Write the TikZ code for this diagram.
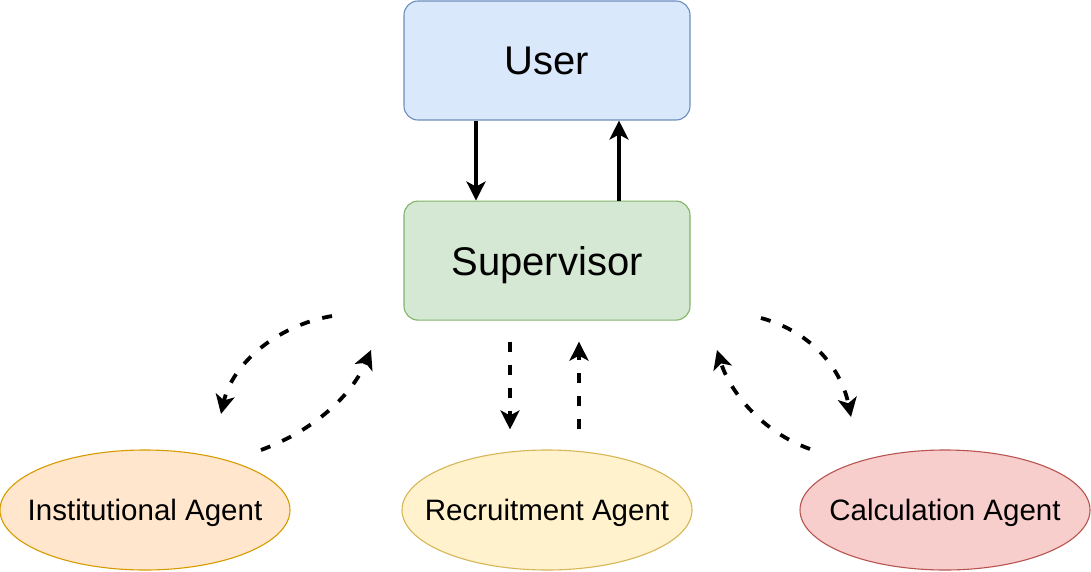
\documentclass[tikz,border=0pt]{standalone}
\usepackage{fontspec}
\setmainfont{Liberation Sans}
\usetikzlibrary{positioning,shapes.geometric,arrows.meta}
\definecolor{userfill}{HTML}{DAE8FC}
\definecolor{userline}{HTML}{6C8EBF}
\definecolor{supfill}{HTML}{D5E8D4}
\definecolor{supline}{HTML}{82B366}
\definecolor{instfill}{HTML}{FFE6CC}
\definecolor{instline}{HTML}{D79B00}
\definecolor{recfill}{HTML}{FFF2CC}
\definecolor{recline}{HTML}{D6B656}
\definecolor{calcfill}{HTML}{F8CECC}
\definecolor{calcline}{HTML}{B85450}
\newcommand{\agentlabel}[1]{\makebox[0pt]{#1}}

\begin{document}
\begin{tikzpicture}[x=1pt,y=-1pt, box/.style = {rectangle,rounded corners=14pt,minimum width=286pt,minimum height=119pt,inner sep=0pt,
		line width=1.1pt,text depth=0pt,font=\fontsize{40}{46}\selectfont}, agent/.style = {ellipse,minimum width=290pt,minimum height=120pt,inner sep=0pt,
		line width=1.1pt,text depth=0pt,font=\fontsize{29.5}{35}\selectfont}, call/.style = {line width=3.8pt,-{Stealth[length=19pt,width=19pt,inset=5pt]}},
		task/.style = {call,dash pattern=on 10pt off 13pt}]
    \useasboundingbox (0,0) rectangle (1091,572);
    \node [box,fill=userfill,draw=userline] (user) at (547,60.5) {User};
    \node [box,fill=supfill,draw=supline,below=80pt of user] (supervisor) {Supervisor};
    \node [agent,fill=instfill,draw=instline] (institutional) at (145,510) {\agentlabel{Institutional Agent}};
    \node [agent,fill=recfill,draw=recline] (recruitment) at (547,510) {\agentlabel{Recruitment Agent}};
    \node [agent,fill=calcfill,draw=calcline] (calculation) at (945,510) {\agentlabel{Calculation Agent}};
    % user <-> supervisor
    \draw [call] ([xshift=-71pt]user.south) -- ([xshift=-71pt]supervisor.north);
    \draw [call] ([xshift=72pt]supervisor.north) -- ([xshift=72pt]user.south);
    % supervisor <-> recruitment
    \draw [task] ([xshift=-37pt,yshift=-21pt]supervisor.south) -- ([xshift=-37pt,yshift=20pt]recruitment.north);
    \draw [task] ([xshift=32pt,yshift=20pt]recruitment.north) -- ([xshift=32pt,yshift=-21pt]supervisor.south);
    % supervisor <-> institutional
    \coordinate (inst out) at (332,316);
    \coordinate (inst in) at (221,414);
    \coordinate (inst back) at (261,450);
    \coordinate (inst up) at (371,350);
    \draw [task] (inst out) .. controls (275,326) and (232,365) .. (inst in);
    \draw [task] (inst back) .. controls (315,430) and (352,395) .. (inst up);
    % supervisor <-> calculation
    \coordinate (calc out) at (761,318);
    \coordinate (calc in) at (851,417);
    \coordinate (calc back) at (810,449);
    \coordinate (calc up) at (717,350);
    \draw [task] (calc out) .. controls (815,333) and (842,372) .. (calc in);
    \draw [task] (calc back) .. controls (762,432) and (730,392) .. (calc up);
  \end{tikzpicture}
\end{document}
